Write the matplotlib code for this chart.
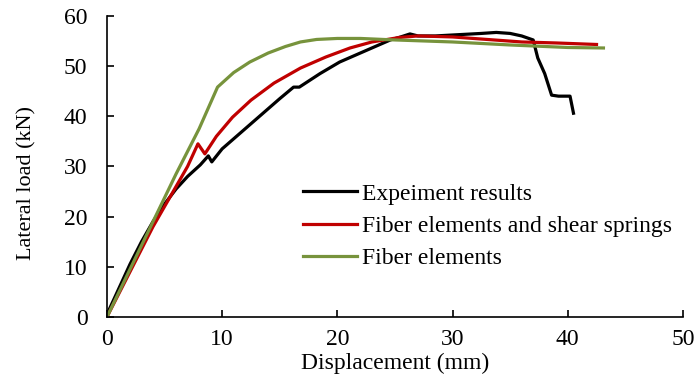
import matplotlib.pyplot as plt

plt.rcParams['font.family'] = ['Liberation Serif', 'DejaVu Serif']

# Expeiment results
exp_x = [0, 1, 2, 3, 4, 5, 6, 7, 8.1, 8.8, 9.1, 10, 10.9, 12, 13, 14, 15, 16.2, 16.7, 17.5, 18.5, 20.2, 22, 23.7, 24.6, 25.5, 26.3, 27, 28.5, 30.9, 32.5, 33.8, 35, 36, 37.0, 37.4, 38.0, 38.6, 39.2, 40.2, 40.5]
exp_y = [0.5, 5.5, 10.5, 15, 19, 22.5, 25.5, 28, 30.3, 32.1, 30.9, 33.5, 35.3, 37.5, 39.5, 41.5, 43.5, 45.8, 45.8, 47, 48.5, 50.8, 52.6, 54.3, 55.2, 55.8, 56.4, 56.0, 56.0, 56.3, 56.5, 56.7, 56.5, 56.0, 55.2, 51.6, 48.5, 44.2, 44.0, 44.0, 40.6]

# Fiber elements and shear springs
fs_x = [0, 1, 2, 3, 4, 5, 6, 7, 7.9, 8.5, 9.5, 10.9, 12.5, 14.5, 16.8, 19, 21.1, 23, 25.4, 27, 30, 33, 36, 39, 42.5]
fs_y = [0, 4.5, 9, 13.5, 18, 22, 26, 30, 34.5, 32.5, 36, 39.8, 43.2, 46.6, 49.6, 51.8, 53.6, 54.8, 55.7, 56.0, 55.8, 55.3, 54.8, 54.6, 54.3]

# Fiber elements
fe_x = [0, 2, 4, 6, 8, 9.6, 11, 12.4, 14, 15.5, 16.8, 18.2, 20, 22, 25, 30, 35, 40, 43.1]
fe_y = [0, 9.5, 19, 28.5, 37.5, 45.8, 48.7, 50.8, 52.6, 53.9, 54.8, 55.3, 55.5, 55.5, 55.2, 54.8, 54.2, 53.7, 53.6]

fig = plt.figure(figsize=(6.99, 3.87), dpi=100)
ax = fig.add_axes([0.153, 0.181, 0.824, 0.778])

ax.plot(exp_x, exp_y, color='black', lw=2.3, label='Expeiment results')
ax.plot(fs_x, fs_y, color='#C00000', lw=2.3, label='Fiber elements and shear springs')
ax.plot(fe_x, fe_y, color='#77933C', lw=2.3, label='Fiber elements')

ax.set_xlim(0, 50)
ax.set_ylim(0, 60)
ax.set_xticks(range(0, 51, 10))
ax.set_yticks(range(0, 61, 10))
ax.spines['top'].set_visible(False)
ax.spines['right'].set_visible(False)
ax.tick_params(direction='in', labelsize=17, length=5, width=1.2)
ax.tick_params(axis='x', pad=9)
ax.tick_params(axis='y', pad=14)
for s in ['left', 'bottom']:
    ax.spines[s].set_linewidth(1.2)

ax.set_xlabel('Displacement (mm)', fontsize=17)
ax.set_ylabel('Lateral load (kN)', fontsize=16)
ax.xaxis.set_label_coords(0.5, -0.12)
ax.yaxis.set_label_coords(-0.123, 0.445)

ax.legend(loc='upper left', bbox_to_anchor=(0.303, 0.515), frameon=False, fontsize=17,
          handlelength=2.3, handletextpad=0.2, labelspacing=0.45)

plt.savefig('out.png')
